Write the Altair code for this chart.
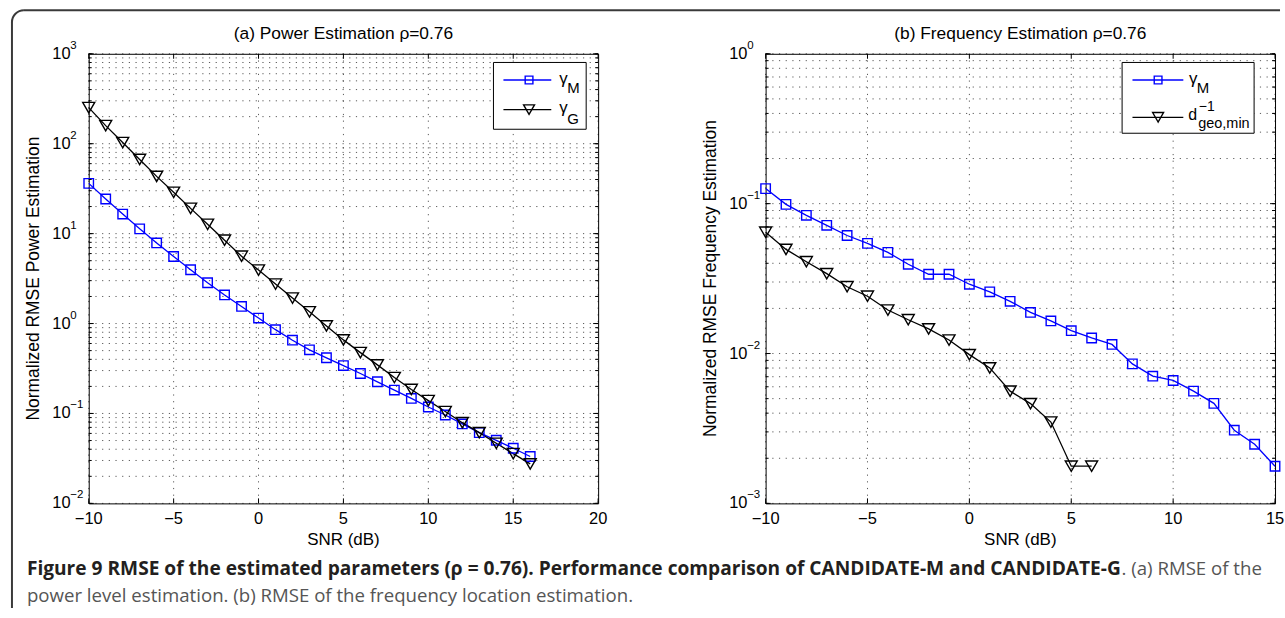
import altair as alt
import pandas as pd

# ---------------- data ----------------
snr_a = list(range(-10, 17))
gamma_M_a = [36.2, 24.3, 16.5, 11.3, 7.88, 5.57, 3.96, 2.84, 2.08, 1.55, 1.15, 0.855,
             0.653, 0.510, 0.416, 0.341, 0.278, 0.225, 0.182, 0.147, 0.118, 0.0962,
             0.0765, 0.0612, 0.0503, 0.0410, 0.0332]
gamma_G_a = [252, 159, 103, 66.8, 43.3, 28.8, 19.1, 12.7, 8.45, 5.61, 3.93, 2.75, 1.92,
             1.35, 0.94, 0.658, 0.475, 0.347, 0.251, 0.185, 0.139, 0.105, 0.079, 0.0612,
             0.0466, 0.0358, 0.0275]

snr_b_M = list(range(-10, 16))
gamma_M_b = [0.126, 0.0989, 0.0836, 0.0717, 0.0613, 0.0543, 0.0473, 0.0394, 0.0338,
             0.0338, 0.0290, 0.0258, 0.0223, 0.0188, 0.0165, 0.0142, 0.0127, 0.0115,
             0.00853, 0.00706, 0.00661, 0.00561, 0.00465, 0.00308, 0.00248, 0.00177]
snr_b_d = list(range(-10, 7))
d_geo_b = [0.0645, 0.0495, 0.0410, 0.0341, 0.0279, 0.0241, 0.0195, 0.0168, 0.0146,
           0.0123, 0.00983, 0.00802, 0.00561, 0.00463, 0.00349, 0.00177, 0.00177]

xticks_a = [-10, -5, 0, 5, 10, 15, 20]
xticks_b = [-10, -5, 0, 5, 10, 15]
decades_a = [-2, -1, 0, 1, 2, 3]
decades_b = [-3, -2, -1, 0]
mantissas = [1, 2, 3, 4, 5, 6, 7, 8, 9]

title_a = "(a) Power Estimation ρ=0.76"
title_b = "(b) Frequency Estimation ρ=0.76"
ytitle_a = "Normalized RMSE Power Estimation"
ytitle_b = "Normalized RMSE Frequency Estimation"
xtitle = "SNR (dB)"
caption_bold = ("Figure 9 RMSE of the estimated parameters (ρ = 0.76). "
                "Performance comparison of CANDIDATE-M and CANDIDATE-G")
caption_tail = ". (a) RMSE of the"
caption_line2 = "power level estimation. (b) RMSE of the frequency location estimation."

# ---------------- styling ----------------
W, H = 511, 451
FONT = "Liberation Sans"
CAP_FONT = "Open Sans"
BLUE = "#0000FF"
BLACK = "#000000"
ONE = pd.DataFrame({"k": [0]})


def minus(v):
    return str(v).replace("-", "\u2212")


def txt(text, x, y, size, align="left", baseline="middle", font=FONT, weight="normal",
        color="black", angle=0):
    return alt.Chart(pd.DataFrame({"t": [text]})).mark_text(
        font=font, fontSize=size, align=align, baseline=baseline, fontWeight=weight,
        color=color, angle=angle
    ).encode(x=alt.value(x), y=alt.value(y), text="t:N")


def rule(x, x2, y, y2, color="black", width=1.0):
    return alt.Chart(ONE).mark_rule(color=color, strokeWidth=width).encode(
        x=alt.value(x), x2=alt.value(x2), y=alt.value(y), y2=alt.value(y2))


def panel(xdom, xticks, decades, series, title, ytitle, legend, extra=None):
    xs = alt.Scale(domain=xdom, nice=False, zero=False)
    ys = alt.Scale(type="log", domain=[10.0 ** decades[0], 10.0 ** decades[-1]], nice=False)
    minor = [m * 10.0 ** e for e in decades[:-1] for m in mantissas] + [10.0 ** decades[-1]]
    major = [10.0 ** e for e in decades]
    X = lambda: alt.X("x:Q", scale=xs, axis=None)
    Y = lambda: alt.Y("y:Q", scale=ys, axis=None)

    layers = []
    # dotted grid from tick arrays
    xt = pd.DataFrame({"x": xticks, "lab": [minus(v) for v in xticks]})
    yt = pd.DataFrame({"y": minor})
    layers.append(alt.Chart(yt).mark_rule(color="black", strokeWidth=1, strokeDash=[1.2, 5.5],
                                          opacity=0.65).encode(
        y=Y(), x=alt.value(0), x2=alt.value(W)))
    layers.append(alt.Chart(xt).mark_rule(color="black", strokeWidth=1, strokeDash=[1.2, 5.5],
                                          opacity=0.65).encode(
        x=X(), y=alt.value(0), y2=alt.value(H)))

    # series
    for s in series:
        df = pd.DataFrame({"x": s["x"], "y": s["y"]})
        layers.append(alt.Chart(df).mark_line(color=s["color"], strokeWidth=1.3)
                      .encode(x=X(), y=Y()))
    for s in series:
        df = pd.DataFrame({"x": s["x"], "y": s["y"]})
        layers.append(alt.Chart(df).mark_point(
            shape=s["shape"], size=s["size"], filled=False, color=s["color"],
            strokeWidth=1.4, opacity=1
        ).encode(x=X(), y=Y()))

    # inward ticks
    for y0, y1 in [(H, H - 5), (0, 5)]:
        layers.append(alt.Chart(xt).mark_rule(color="black", strokeWidth=1).encode(
            x=X(), y=alt.value(y0), y2=alt.value(y1)))
    for vals, ln in [(major, 5), (minor, 3)]:
        ytk = pd.DataFrame({"y": vals})
        for x0, x1 in [(0, ln), (W, W - ln)]:
            layers.append(alt.Chart(ytk).mark_rule(color="black", strokeWidth=1).encode(
                y=Y(), x=alt.value(x0), x2=alt.value(x1)))

    # x tick labels
    layers.append(alt.Chart(xt).mark_text(font=FONT, fontSize=16.5, align="center",
                                          baseline="middle", color="black").encode(
        x=X(), y=alt.value(H + 16), text="lab:N"))

    # y tick labels 10^e
    dl = pd.DataFrame({"y": major, "b": ["10"] * len(major), "e": [minus(e) for e in decades]})
    layers.append(alt.Chart(dl).mark_text(font=FONT, fontSize=16.5, align="left",
                                          baseline="middle", color="black").encode(
        x=alt.value(-36.5), y=Y(), text="b:N"))
    layers.append(alt.Chart(dl).mark_text(font=FONT, fontSize=11.5, align="left",
                                          baseline="middle", color="black", dy=-8).encode(
        x=alt.value(-18.5), y=Y(), text="e:N"))

    # titles
    layers.append(txt(title, W / 2, -20, 17.4, align="center"))
    layers.append(txt(ytitle, -55, H / 2, 17.5, align="center", angle=270))
    layers.append(txt(xtitle, W / 2, 488, 17, align="center"))

    # legend
    bx0, bx1, by0, by1 = legend["box"]
    layers.append(alt.Chart(ONE).mark_rect(fill="white", stroke="black", strokeWidth=1).encode(
        x=alt.value(bx0), x2=alt.value(bx1), y=alt.value(by0), y2=alt.value(by1)))
    lx0, lx1, mx = legend["line"]
    for row, s in zip(legend["rows"], series):
        ry = row["y"]
        layers.append(rule(lx0, lx1, ry, ry, color=s["color"], width=1.3))
        layers.append(alt.Chart(ONE).mark_point(
            shape=s["shape"], size=s["lsize"], filled=False, color=s["color"],
            strokeWidth=1.4, opacity=1).encode(x=alt.value(mx), y=alt.value(ry)))
        for (t, x, y, fs) in row["texts"]:
            layers.append(txt(t, x, y, fs, baseline="alphabetic"))

    if extra:
        layers.extend(extra)
    return alt.layer(*layers).properties(width=W, height=H)


# ---------------- frame + caption (relative to left panel origin) ----------------
FRAME = "#3a3a3a"
frame_and_caption = [
    alt.Chart(ONE).mark_rect(opacity=0).encode(
        x=alt.value(-88), x2=alt.value(1197), y=alt.value(-52), y2=alt.value(558)),
    rule(-77, -77, -32, 556, color=FRAME, width=2),
    rule(-65, 1195, -43.7, -43.7, color=FRAME, width=2),
    alt.Chart(ONE).mark_arc(radius=13, radius2=11, theta=4.712389, theta2=6.283185,
                            color=FRAME).encode(x=alt.value(-65), y=alt.value(-31.7)),
    txt(caption_bold, -62, 523, 19.2, baseline="alphabetic", font=CAP_FONT, weight="bold",
        color="#231F20"),
    txt(caption_tail, 1036, 523, 18.7, baseline="alphabetic", font=CAP_FONT,
        color="#555555"),
    txt(caption_line2, -62, 550, 18.7, baseline="alphabetic", font=CAP_FONT,
        color="#555555"),
]

series_a = [
    dict(x=snr_a, y=gamma_M_a, color=BLUE, shape="square", size=90, lsize=60),
    dict(x=snr_a, y=gamma_G_a, color=BLACK, shape="triangle-down", size=145, lsize=120),
]
legend_a = dict(
    box=(406, 499, 8.7, 75.7),
    line=(416, 464, 441.7),
    rows=[
        dict(y=26.3, texts=[("γ", 472, 30, 17), ("M", 480, 39.5, 15)]),
        dict(y=56, texts=[("γ", 472, 59.3, 17), ("G", 480, 70.3, 15)]),
    ],
)

series_b = [
    dict(x=snr_b_M, y=gamma_M_b, color=BLUE, shape="square", size=90, lsize=60),
    dict(x=snr_b_d, y=d_geo_b, color=BLACK, shape="triangle-down", size=145, lsize=120),
]
legend_b = dict(
    box=(357.6, 490, 8.7, 79.7),
    line=(368, 419, 393.7),
    rows=[
        dict(y=26.3, texts=[("γ", 424.7, 30, 17), ("M", 432.5, 39.7, 15)]),
        dict(y=63.7, texts=[("d", 424, 66.3, 16), ("\u22121", 434.5, 57.5, 14),
                            ("geo,min", 434, 74, 14.5)]),
    ],
)

left = panel([-10, 20], xticks_a, decades_a, series_a, title_a, ytitle_a, legend_a,
             extra=frame_and_caption)
right = panel([-10, 15], xticks_b, decades_b, series_b, title_b, ytitle_b, legend_b)

chart = alt.hconcat(left, right, spacing=168, bounds="flush").properties(
    padding=0, background="white"
).configure_view(stroke="black", strokeWidth=1)

chart.save("out.html", embed_options={"renderer": "svg", "actions": False})
